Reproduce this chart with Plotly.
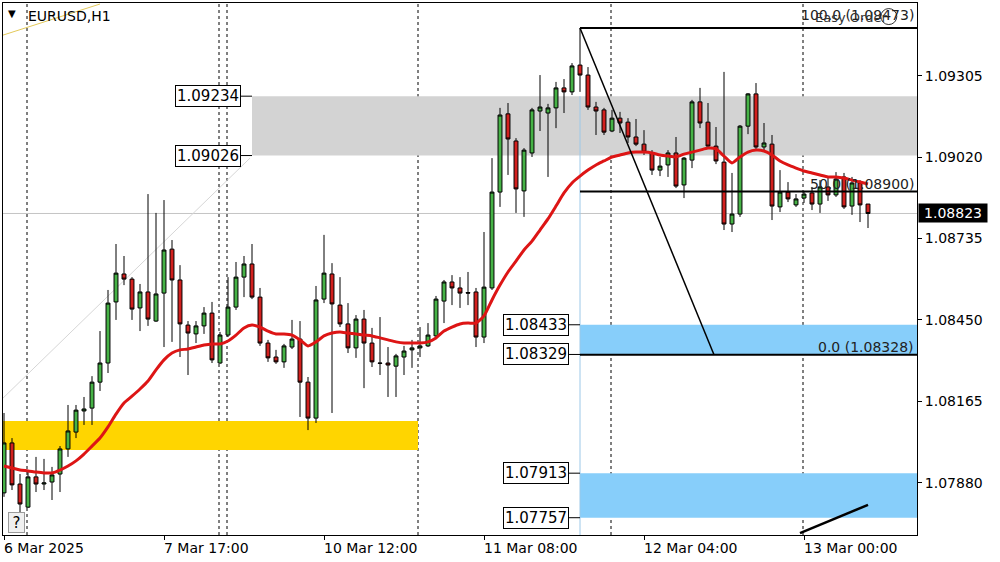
import plotly.graph_objects as go

# ---------------- data ----------------
symbol_title = "EURUSD,H1"
x_label_bars = [0, 20, 40, 60, 80, 100]
x_labels = ["6 Mar 2025", "7 Mar 17:00", "10 Mar 12:00", "11 Mar 08:00", "12 Mar 04:00", "13 Mar 00:00"]
y_ticks = [1.07880, 1.08165, 1.08450, 1.08735, 1.09020, 1.09305]

opens = [1.07844, 1.08019, 1.07875, 1.07794, 1.07900, 1.07875, 1.07882, 1.07910, 1.07998, 1.08057,
         1.08131, 1.08141, 1.08232, 1.08299, 1.08513, 1.08611, 1.08593, 1.08492, 1.08548, 1.08446,
         1.08544, 1.08698, 1.08590, 1.08432, 1.08401, 1.08429, 1.08474, 1.08299, 1.08397, 1.08495,
         1.08600, 1.08646, 1.08530, 1.08369, 1.08320, 1.08303, 1.08355, 1.08383, 1.08232, 1.08106,
         1.08523, 1.08611, 1.08502, 1.08436, 1.08352, 1.08453, 1.08369, 1.08299, 1.08299, 1.08288,
         1.08320, 1.08345, 1.08352, 1.08359, 1.08394, 1.08516, 1.08583, 1.08562, 1.08546, 1.08548,
         1.08390, 1.08562, 1.08898, 1.09172, 1.09077, 1.08902, 1.09035, 1.09182, 1.09175, 1.09193,
         1.09263, 1.09249, 1.09343, 1.09308, 1.09196, 1.09186, 1.09112, 1.09157, 1.09143, 1.09091,
         1.09066, 1.09035, 1.08975, 1.08993, 1.09035, 1.08923, 1.09010, 1.09214, 1.09143, 1.09059,
         1.09003, 1.08786, 1.08821, 1.09129, 1.09242, 1.09056, 1.09066, 1.08846, 1.08898, 1.08853,
         1.08877, 1.08895, 1.08856, 1.08916, 1.08888, 1.08951, 1.08849, 1.08930, 1.08856]
highs = [1.08124, 1.08036, 1.07910, 1.07924, 1.07970, 1.07963, 1.07935, 1.08008, 1.08152, 1.08152,
         1.08180, 1.08253, 1.08411, 1.08555, 1.08716, 1.08674, 1.08600, 1.08576, 1.08891, 1.08825,
         1.08870, 1.08730, 1.08642, 1.08446, 1.08446, 1.08495, 1.08513, 1.08408, 1.08600, 1.08653,
         1.08674, 1.08716, 1.08562, 1.08380, 1.08345, 1.08366, 1.08450, 1.08446, 1.08250, 1.08569,
         1.08748, 1.08649, 1.08600, 1.08509, 1.08467, 1.08485, 1.08422, 1.08460, 1.08355, 1.08331,
         1.08359, 1.08380, 1.08425, 1.08439, 1.08534, 1.08590, 1.08607, 1.08600, 1.08618, 1.08562,
         1.08758, 1.09017, 1.09193, 1.09210, 1.09087, 1.09052, 1.09193, 1.09308, 1.09207, 1.09284,
         1.09294, 1.09350, 1.09473, 1.09336, 1.09214, 1.09193, 1.09186, 1.09179, 1.09157, 1.09154,
         1.09115, 1.09045, 1.09021, 1.09045, 1.09091, 1.09021, 1.09221, 1.09263, 1.09210, 1.09126,
         1.09319, 1.08965, 1.09133, 1.09245, 1.09280, 1.09140, 1.09098, 1.08975, 1.08933, 1.08891,
         1.08902, 1.08916, 1.08940, 1.08951, 1.08968, 1.08965, 1.08951, 1.08940, 1.08856]
lows = [1.07830, 1.07854, 1.07773, 1.07791, 1.07847, 1.07854, 1.07819, 1.07847, 1.07970, 1.08036,
        1.08082, 1.08082, 1.08201, 1.08264, 1.08450, 1.08572, 1.08450, 1.08411, 1.08429, 1.08443,
        1.08355, 1.08373, 1.08320, 1.08257, 1.08369, 1.08401, 1.08299, 1.08296, 1.08390, 1.08485,
        1.08530, 1.08523, 1.08359, 1.08303, 1.08296, 1.08282, 1.08348, 1.08110, 1.08064, 1.08089,
        1.08509, 1.08124, 1.08425, 1.08334, 1.08317, 1.08211, 1.08285, 1.08257, 1.08180, 1.08180,
        1.08257, 1.08282, 1.08320, 1.08355, 1.08390, 1.08439, 1.08502, 1.08492, 1.08502, 1.08355,
        1.08369, 1.08555, 1.08846, 1.08958, 1.08825, 1.08811, 1.09021, 1.09112, 1.08951, 1.09122,
        1.09175, 1.09238, 1.09249, 1.09186, 1.09098, 1.09098, 1.09108, 1.09105, 1.09070, 1.09059,
        1.09028, 1.08958, 1.08954, 1.08951, 1.08912, 1.08877, 1.08982, 1.09122, 1.09056, 1.08996,
        1.08765, 1.08758, 1.08811, 1.09101, 1.09049, 1.09045, 1.08800, 1.08828, 1.08863, 1.08846,
        1.08860, 1.08835, 1.08825, 1.08867, 1.08881, 1.08839, 1.08818, 1.08793, 1.08772]
closes = [1.08019, 1.07872, 1.07805, 1.07900, 1.07875, 1.07879, 1.07907, 1.07998, 1.08061, 1.08134,
          1.08138, 1.08232, 1.08299, 1.08509, 1.08614, 1.08593, 1.08488, 1.08548, 1.08453, 1.08541,
          1.08695, 1.08590, 1.08436, 1.08404, 1.08429, 1.08474, 1.08310, 1.08397, 1.08495, 1.08600,
          1.08646, 1.08530, 1.08369, 1.08317, 1.08303, 1.08359, 1.08383, 1.08232, 1.08106, 1.08520,
          1.08614, 1.08506, 1.08436, 1.08352, 1.08453, 1.08369, 1.08303, 1.08298, 1.08292, 1.08324,
          1.08341, 1.08352, 1.08359, 1.08397, 1.08523, 1.08583, 1.08562, 1.08544, 1.08544, 1.08390,
          1.08565, 1.08898, 1.09168, 1.09084, 1.08909, 1.09045, 1.09186, 1.09196, 1.09193, 1.09263,
          1.09249, 1.09340, 1.09308, 1.09196, 1.09182, 1.09108, 1.09157, 1.09140, 1.09091, 1.09066,
          1.09038, 1.08975, 1.08989, 1.09035, 1.08919, 1.09017, 1.09214, 1.09140, 1.09059, 1.09007,
          1.08786, 1.08821, 1.09129, 1.09242, 1.09056, 1.09070, 1.08849, 1.08898, 1.08874, 1.08874,
          1.08891, 1.08856, 1.08916, 1.08888, 1.08944, 1.08846, 1.08930, 1.08853, 1.08823]
moving_avg = [1.07938, 1.07931, 1.07924, 1.07921, 1.07917, 1.07914, 1.07914, 1.07924, 1.07938, 1.07956,
              1.07980, 1.08008, 1.08036, 1.08075, 1.08120, 1.08159, 1.08183, 1.08208, 1.08236, 1.08275,
              1.08310, 1.08334, 1.08345, 1.08348, 1.08355, 1.08362, 1.08366, 1.08366, 1.08376, 1.08397,
              1.08422, 1.08432, 1.08425, 1.08411, 1.08401, 1.08401, 1.08397, 1.08380, 1.08359, 1.08373,
              1.08394, 1.08404, 1.08408, 1.08404, 1.08401, 1.08397, 1.08394, 1.08387, 1.08380, 1.08373,
              1.08369, 1.08369, 1.08369, 1.08373, 1.08387, 1.08411, 1.08425, 1.08436, 1.08439, 1.08439,
              1.08464, 1.08520, 1.08572, 1.08618, 1.08656, 1.08695, 1.08726, 1.08765, 1.08804, 1.08849,
              1.08895, 1.08930, 1.08954, 1.08975, 1.08993, 1.09007, 1.09021, 1.09028, 1.09035, 1.09038,
              1.09038, 1.09035, 1.09028, 1.09024, 1.09021, 1.09031, 1.09038, 1.09045, 1.09052, 1.09049,
              1.09024, 1.09000, 1.09021, 1.09038, 1.09045, 1.09042, 1.09028, 1.09007, 1.08993, 1.08982,
              1.08972, 1.08965, 1.08958, 1.08951, 1.08951, 1.08947, 1.08940, 1.08933, 1.08926]
bars = list(range(len(closes)))

current_price = 1.08823
separator_bars = [2.875, 26.875, 27.875, 51.75, 75.875, 99.875]

# zones: (start bar, top, bottom)
supply_zone = (31, 1.09234, 1.09026)
demand_zone = (-0.125, 51.75, 1.08096, 1.07994)
blue_zones = [(72, 1.08433, 1.08329), (72, 1.07913, 1.07757)]
zone_labels_left = [("1.09234", 1.09234), ("1.09026", 1.09026)]
zone_labels_right = [("1.08433", 1.08433), ("1.08329", 1.08329), ("1.07913", 1.07913), ("1.07757", 1.07757)]

fib_start_bar, fib_end_bar = 72, 88.75
fib_levels = [("100.0 (1.09473)", 1.09473), ("50.0 (1.08900)", 1.08900), ("0.0 (1.08328)", 1.08328)]

X0, X1 = -0.125, 114.125
Y0, Y1 = 1.076964, 1.095605

FONT = "DejaVu Sans"
GREEN = "#46B246"
RED = "#D2201E"

fig = go.Figure()
fig.add_trace(go.Candlestick(
    x=bars, open=opens, high=highs, low=lows, close=closes,
    increasing=dict(line=dict(color="black", width=1), fillcolor=GREEN),
    decreasing=dict(line=dict(color="black", width=1), fillcolor=RED),
    whiskerwidth=0, hoverinfo="skip",
))
fig.add_trace(go.Scatter(x=bars, y=moving_avg, mode="lines",
                         line=dict(color="#DD1515", width=3, shape="spline", smoothing=0.6),
                         hoverinfo="skip"))

shapes = []
shapes.append(dict(type="rect", xref="x", yref="y", x0=supply_zone[0], x1=X1, y0=supply_zone[2], y1=supply_zone[1],
                   fillcolor="#D3D3D3", line=dict(width=0), layer="below"))
shapes.append(dict(type="rect", xref="x", yref="y", x0=demand_zone[0], x1=demand_zone[1], y0=demand_zone[3], y1=demand_zone[2],
                   fillcolor="#FFD500", line=dict(width=0), layer="below"))
for b, top, bot in blue_zones:
    shapes.append(dict(type="rect", xref="x", yref="y", x0=b, x1=X1, y0=bot, y1=top,
                       fillcolor="#87CEFA", line=dict(width=0), layer="below"))
shapes.append(dict(type="line", xref="paper", yref="y", x0=0, x1=1, y0=current_price, y1=current_price,
                   line=dict(color="#C4C4C4", width=1), layer="below"))
for s in separator_bars:
    shapes.append(dict(type="line", xref="x", yref="paper", x0=s, x1=s, y0=0, y1=1,
                       line=dict(color="black", width=1, dash="3px,3px"), layer="below"))
shapes.append(dict(type="line", xref="x", yref="y", x0=-0.125, x1=12, y0=1.09448, y1=1.09557,
                   line=dict(color="#E3C95A", width=1), layer="below"))
shapes.append(dict(type="line", xref="x", yref="y", x0=-0.125, x1=30.75, y0=1.08176, y1=1.09017,
                   line=dict(color="#D6D6D6", width=1), layer="below"))
shapes.append(dict(type="line", xref="x", yref="y", x0=72, x1=72, y0=Y0, y1=1.09234,
                   line=dict(color="#9CC8E8", width=1), layer="below"))
for txt, lvl in fib_levels:
    shapes.append(dict(type="line", xref="x", yref="y", x0=fib_start_bar, x1=X1, y0=lvl, y1=lvl,
                       line=dict(color="black", width=2)))
shapes.append(dict(type="line", xref="x", yref="y", x0=fib_start_bar, x1=fib_end_bar,
                   y0=fib_levels[0][1], y1=fib_levels[2][1], line=dict(color="black", width=1.5)))
for txt, lvl in zone_labels_left:
    shapes.append(dict(type="line", xref="x", yref="y", x0=29.6, x1=31, y0=lvl, y1=lvl, line=dict(color="black", width=1)))
for txt, lvl in zone_labels_right:
    shapes.append(dict(type="line", xref="x", yref="y", x0=70.6, x1=72, y0=lvl, y1=lvl, line=dict(color="black", width=1)))
shapes.append(dict(type="line", xref="x", yref="y", x0=99.5, x1=108, y0=1.07703, y1=1.07802,
                   line=dict(color="black", width=2.5)))
shapes.append(dict(type="circle", xref="x", yref="y", x0=109.6, x1=111.6, y0=1.09485, y1=1.09541,
                   line=dict(color="#333333", width=1)))

annotations = []
for b, lab in zip(x_label_bars, x_labels):
    annotations.append(dict(x=b, y=0, xref="x", yref="paper", text=lab, showarrow=False,
                            xanchor="left", yanchor="top", xshift=-2, yshift=-3,
                            font=dict(family=FONT, size=14, color="black")))
for txt, lvl in zone_labels_left:
    annotations.append(dict(x=29.6, y=lvl, xref="x", yref="y", text=txt, showarrow=False,
                            xanchor="right", yanchor="middle", bgcolor="white", bordercolor="black",
                            borderwidth=1, borderpad=1, font=dict(family=FONT, size=15, color="black")))
for txt, lvl in zone_labels_right:
    annotations.append(dict(x=70.6, y=lvl, xref="x", yref="y", text=txt, showarrow=False,
                            xanchor="right", yanchor="middle", bgcolor="white", bordercolor="black",
                            borderwidth=1, borderpad=1, font=dict(family=FONT, size=15, color="black")))
for i, (txt, lvl) in enumerate(fib_levels):
    annotations.append(dict(x=1, y=lvl, xref="paper", yref="y", text=txt, showarrow=False,
                            xanchor="right", yanchor="bottom", xshift=-1, yshift=(3 if i == 0 else -2),
                            font=dict(family=FONT, size=14, color="#222222")))
annotations.append(dict(x=101.1, y=1.09511, xref="x", yref="y", text="Easy Order", showarrow=False,
                        xanchor="left", yanchor="middle", font=dict(family=FONT, size=13, color="#333333")))
annotations.append(dict(x=1, y=current_price, xref="paper", yref="y", text=f"{current_price:.5f}", showarrow=False,
                        xanchor="left", yanchor="middle", xshift=1, bgcolor="black", width=66, height=16,
                        font=dict(family=FONT, size=14, color="white")))
annotations.append(dict(x=0.0009, y=0.0035, xref="paper", yref="paper", text="?", showarrow=False,
                        xanchor="left", yanchor="bottom", xshift=4, bgcolor="#F0F0F0", bordercolor="#9A9A9A",
                        borderwidth=1, width=13, height=17, font=dict(family=FONT, size=15, color="black")))
annotations.append(dict(x=0.00985, y=0.9803, xref="paper", yref="paper", text="▼", showarrow=False,
                        xanchor="center", yanchor="middle", font=dict(family=FONT, size=10, color="black")))
annotations.append(dict(x=0.0252, y=0.9756, xref="paper", yref="paper", text=symbol_title, showarrow=False,
                        xanchor="left", yanchor="middle", font=dict(family=FONT, size=14, color="black")))

fig.update_layout(
    width=1000, height=562,
    margin=dict(l=3, r=83, t=3, b=27),
    paper_bgcolor="white", plot_bgcolor="white",
    showlegend=False,
    font=dict(family=FONT, size=14, color="black"),
    shapes=shapes, annotations=annotations,
    xaxis=dict(range=[X0, X1], showgrid=False, zeroline=False, showline=True, linecolor="black",
               linewidth=1, mirror=True, tickvals=x_label_bars, ticks="outside", ticklen=4,
               tickcolor="black", showticklabels=False, rangeslider=dict(visible=False), fixedrange=True),
    yaxis=dict(range=[Y0, Y1], side="right", showgrid=False, zeroline=False, showline=True,
               linecolor="black", linewidth=1, mirror=True, tickvals=y_ticks, tickformat=".5f",
               ticks="outside", ticklen=4, tickcolor="black",
               tickfont=dict(family=FONT, size=14, color="black"), fixedrange=True),
)

fig.write_html("out.html", config={"displayModeBar": False},
               post_script="document.body.style.margin='0';document.body.style.padding='0';")
